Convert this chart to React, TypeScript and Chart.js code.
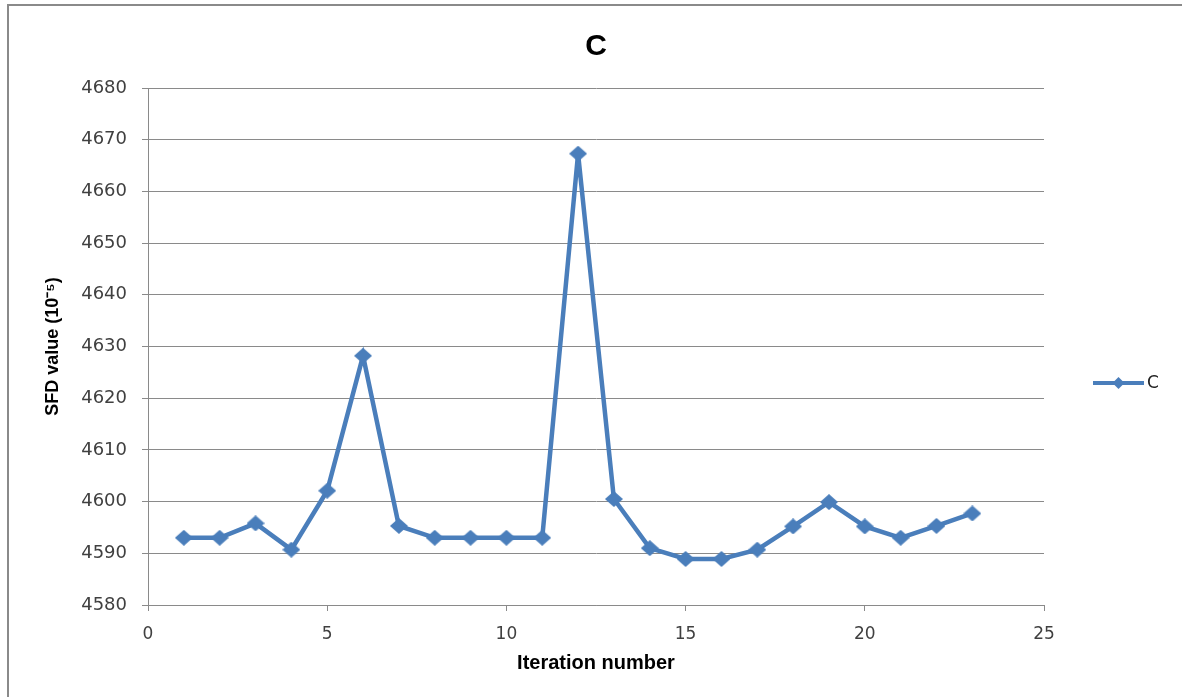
import React, { useEffect, useRef } from 'react';
import { Chart, registerables } from 'chart.js';

Chart.register(...registerables);

// ---- Data ----
const iterations = [1, 2, 3, 4, 5, 6, 7, 8, 9, 10, 11, 12, 13, 14, 15, 16, 17, 18, 19, 20, 21, 22, 23];
const sfdValues = [
  4593, 4593, 4595.8, 4590.7, 4602.1, 4628.2, 4595.3, 4593, 4593, 4593, 4593, 4667.3,
  4600.5, 4591, 4588.9, 4588.9, 4590.7, 4595.2, 4599.9, 4595.2, 4593, 4595.3, 4597.7,
];
const xTickValues = [0, 5, 10, 15, 20, 25];
const yTickValues = [4580, 4590, 4600, 4610, 4620, 4630, 4640, 4650, 4660, 4670, 4680];

const seriesLabel = 'C';
const chartTitle = 'C';
const xAxisTitle = 'Iteration number';
const yAxisTitle = 'SFD value (10\u207B\u2075)';

const SERIES_COLOR = '#4A7EBB';
const GRID_COLOR = '#8a8a8a';
const TICK_COLOR = '#404040';
const LABEL_FONT = "'Liberation Sans', Arial, sans-serif";
const TICK_FONT = "'DejaVu Sans', Verdana, sans-serif";

function makeDiamond(w: number, h: number, color: string) {
  const c = document.createElement('canvas');
  c.width = w;
  c.height = h;
  const ctx = c.getContext('2d')!;
  ctx.fillStyle = color;
  ctx.beginPath();
  ctx.moveTo(w / 2, 0);
  ctx.lineTo(w, h / 2);
  ctx.lineTo(w / 2, h);
  ctx.lineTo(0, h / 2);
  ctx.closePath();
  ctx.fill();
  return c;
}

const decorPlugin = {
  id: 'decor',
  beforeDraw(chart: any) {
    const ctx = chart.ctx;
    ctx.save();
    ctx.fillStyle = '#ffffff';
    ctx.fillRect(0, 0, chart.width, chart.height);
    ctx.fillStyle = '#8a8a8a';
    ctx.fillRect(7, 4, chart.width - 7, 2);
    ctx.fillRect(7, 4, 2, chart.height - 4);
    ctx.restore();
  },
  afterDraw(chart: any) {
    const ctx = chart.ctx;
    const area = chart.chartArea;
    ctx.save();
    // Title
    ctx.fillStyle = '#000000';
    ctx.font = `bold 30px ${LABEL_FONT}`;
    ctx.textAlign = 'center';
    ctx.textBaseline = 'middle';
    ctx.fillText(chartTitle, (area.left + area.right) / 2, 47);

    // Legend
    const ds = chart.data.datasets[0];
    const ly = 383;
    const lx0 = area.right + 49;
    const lx1 = area.right + 100;
    ctx.strokeStyle = ds.borderColor;
    ctx.lineWidth = 4;
    ctx.beginPath();
    ctx.moveTo(lx0, ly);
    ctx.lineTo(lx1, ly);
    ctx.stroke();
    ctx.fillStyle = ds.borderColor;
    ctx.beginPath();
    const mx = (lx0 + lx1) / 2;
    ctx.moveTo(mx, ly - 6);
    ctx.lineTo(mx + 6, ly);
    ctx.lineTo(mx, ly + 6);
    ctx.lineTo(mx - 6, ly);
    ctx.closePath();
    ctx.fill();
    ctx.fillStyle = '#222222';
    ctx.font = `17px ${TICK_FONT}`;
    ctx.textAlign = 'left';
    ctx.textBaseline = 'middle';
    ctx.fillText(ds.label, lx1 + 3, ly + 1);
    ctx.restore();
  },
};

export default function App() {
  const canvasRef = useRef<HTMLCanvasElement | null>(null);

  useEffect(() => {
    const canvas = canvasRef.current;
    if (!canvas) return;
    const diamond = makeDiamond(18, 16, SERIES_COLOR);
    const chart = new Chart(canvas, {
      type: 'line',
      data: {
        datasets: [
          {
            label: seriesLabel,
            data: iterations.map((x, i) => ({ x, y: sfdValues[i] })),
            borderColor: SERIES_COLOR,
            backgroundColor: SERIES_COLOR,
            borderWidth: 4.5,
            pointStyle: diamond as any,
            pointRadius: 9,
            tension: 0,
          },
        ],
      },
      options: {
        responsive: false,
        animation: false,
        layout: { padding: { top: 88, right: 138, left: 0, bottom: 0 } },
        plugins: {
          legend: { display: false },
          title: { display: false },
          tooltip: { enabled: false },
        },
        scales: {
          x: {
            type: 'linear',
            min: 0,
            max: 25,
            afterBuildTicks: (s: any) => {
              s.ticks = xTickValues.map((v) => ({ value: v }));
            },
            afterFit: (s: any) => {
              s.height = 92;
            },
            grid: { drawOnChartArea: false, color: GRID_COLOR, tickLength: 6, lineWidth: 1 },
            border: { display: true, color: GRID_COLOR, width: 1 },
            ticks: {
              color: TICK_COLOR,
              font: { family: TICK_FONT, size: 17 },
              padding: 13,
              maxRotation: 0,
              callback: (v: any) => String(v),
            },
            title: {
              display: true,
              text: xAxisTitle,
              color: '#000000',
              font: { family: LABEL_FONT, size: 20, weight: 'bold' },
              padding: { top: 0, bottom: 22 },
            },
          },
          y: {
            type: 'linear',
            min: 4580,
            max: 4680,
            afterBuildTicks: (s: any) => {
              s.ticks = yTickValues.map((v) => ({ value: v }));
            },
            afterFit: (s: any) => {
              s.width = 148;
            },
            grid: { color: GRID_COLOR, tickLength: 6, lineWidth: 1 },
            border: { display: true, color: GRID_COLOR, width: 1 },
            ticks: {
              color: TICK_COLOR,
              font: { family: TICK_FONT, size: 18 },
              padding: 15,
              callback: (v: any) => String(v),
            },
            title: {
              display: true,
              text: yAxisTitle,
              color: '#000000',
              font: { family: LABEL_FONT, size: 18, weight: 'bold' },
              padding: { top: 42, bottom: 0 },
            },
          },
        },
      },
      plugins: [decorPlugin],
    });
    return () => chart.destroy();
  }, []);

  return (
    <div style={{ position: 'fixed', left: 0, top: 0, width: 1182, height: 697, background: '#fff' }}>
      <canvas ref={canvasRef} width={1182} height={697} style={{ display: 'block', width: 1182, height: 697 }} />
    </div>
  );
}
